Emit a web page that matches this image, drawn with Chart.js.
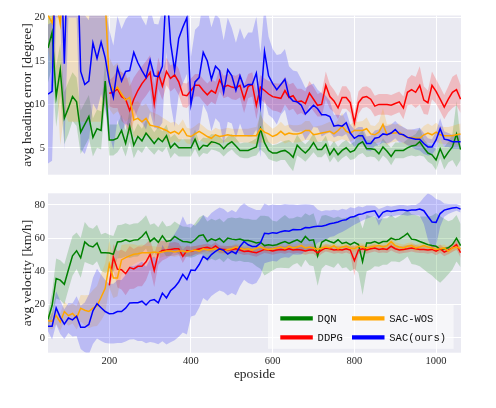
<!DOCTYPE html>
<html><head><meta charset="utf-8">
<script src="https://cdn.jsdelivr.net/npm/chart.js@4.4.1/dist/chart.umd.min.js"></script>
<style>
html,body{margin:0;padding:0;background:#fff;}
#wrap{position:relative;width:496px;height:408px;overflow:hidden;}
#c1{position:absolute;left:0;top:0;}
#c2{position:absolute;left:0;top:184px;}
</style></head><body>
<div id="wrap"><canvas id="c1" width="496" height="184"></canvas><canvas id="c2" width="496" height="224"></canvas></div>
<script>
// ---------- data ----------
const EPISODES = Array.from({length: 102}, (_, i) => 50 + 10 * i);
const SERIES = ['DQN', 'DDPG', 'SAC-WOS', 'SAC(ours)'];
const X_TICKS = [200, 400, 600, 800, 1000];
const HEADING_TICKS = [5, 10, 15, 20];
const VELOCITY_TICKS = [0, 20, 40, 60, 80];
const N = null;

// avg heading error [degree] : mean and spread
const headDQN = [16.5,18.3,10.9,14.0,8.4,9.6,10.9,10.3,6.8,7.7,
 8.6,6.2,7.2,7.0,12.7,5.9,5.9,6.1,7.0,5.5,
 7.5,5.3,6.3,5.8,6.7,6.1,5.5,6.1,5.7,6.4,
 5.0,5.5,5.0,5.0,5.0,5.0,6.0,4.8,5.3,5.2,
 5.7,5.6,5.4,4.9,5.4,5.7,5.2,4.7,4.7,4.7,
 4.9,5.1,7.2,5.6,4.7,4.4,4.4,4.6,4.7,4.4,
 3.9,5.3,4.8,4.4,4.9,5.6,4.8,4.8,5.4,4.2,
 4.9,4.2,4.7,5.0,4.5,4.7,5.4,5.7,4.9,4.9,
 4.8,4.3,5.1,4.6,4.0,4.7,4.7,4.7,5.0,5.2,
 5.3,5.7,5.0,4.4,4.2,3.6,4.9,3.8,4.5,5.1,
 6.6,4.8];
const headDQNsd = [4,4,3.5,3,3,3,2.8,2.8,2.5,2.5,
 2.5,2.2,2.2,2.2,2.5,1.8,1.8,1.6,1.8,1.5,
 1.8,1.5,1.5,1.4,1.5,1.4,1.3,1.3,1.2,1.3,
 1.2,1.1,1.0,1.0,1.0,1.0,1.1,0.9,0.9,0.9,
 0.9,0.9,0.9,0.9,0.9,0.9,0.9,0.8,0.9,0.9,
 0.9,1.0,2.4,1.2,1.0,0.9,1.0,1.0,1.1,1.5,
 1.6,1.2,1.0,1.0,1.0,1.1,0.9,0.9,1.0,0.9,
 0.9,0.9,0.9,0.9,0.9,1.0,1.2,1.3,1.0,0.9,
 0.9,0.9,1.0,0.9,1.0,0.9,0.9,0.9,1.0,1.1,
 1.3,1.6,1.0,1.0,1.1,1.2,1.1,1.3,1.2,1.5,
 3.8,1.2];
const headDDPG = [N,N,N,N,N,N,N,N,N,N,
 N,N,N,N,N,11.3,11.4,11.8,10.9,10.6,
 9.3,10.6,11.6,12.4,13.0,13.7,10.1,13.6,12.1,13.8,
 13.0,13.4,12.6,11.1,11.0,11.6,12.2,12.2,11.6,11.1,
 11.6,11.3,12.8,12.0,12.2,12.0,11.9,12.2,10.6,12.1,
 12.3,9.9,12.0,11.6,11.2,10.9,10.8,10.7,11.6,10.8,
 11.0,10.3,10.4,10.1,11.3,10.6,9.9,10.0,12.2,10.9,
 10.4,9.6,10.8,10.8,10.2,7.9,10.2,10.8,10.9,10.6,
 9.8,10.0,10.0,10.0,9.9,10.1,10.3,9.6,11.4,11.7,
 11.4,12.2,10.5,10.2,12.2,11.5,10.6,9.7,10.6,11.4,
 11.7,10.6];
const headDDPGsd = [N,N,N,N,N,N,N,N,N,N,
 N,N,N,N,N,1.5,1.8,2.2,2.8,3.0,
 2.8,2.5,2.2,2.0,2.0,2.0,2.2,1.8,1.6,1.6,
 1.5,1.5,1.5,1.4,1.4,1.4,1.3,1.3,1.3,1.3,
 1.3,1.3,1.3,1.3,1.3,1.4,1.4,1.4,1.6,1.4,
 1.4,1.6,1.4,1.4,1.5,1.6,1.6,1.7,1.6,1.5,
 1.5,1.5,1.4,1.4,1.4,1.4,1.3,1.4,1.6,1.4,
 1.3,1.3,1.3,1.3,1.2,1.0,1.3,1.2,1.2,1.2,
 1.2,1.2,1.2,1.2,1.2,1.2,1.2,1.3,1.5,1.7,
 1.8,2.2,1.6,1.4,1.6,1.4,1.4,1.4,1.5,1.8,
 1.8,1.6];
const headWOS = [20.3,19.4,22,19.3,26,28,30,30,30,28,
 27,26,25,24,22,12.5,11.6,12.0,11.2,10.5,
 10.8,8.2,8.4,8.0,8.4,7.6,7.5,7.4,7.2,7.0,
 6.7,6.9,6.6,7.2,6.4,6.3,6.6,6.9,6.6,6.3,
 6.1,6.5,6.3,6.4,6.5,6.4,6.4,6.4,6.4,6.4,
 6.4,6.4,7.2,6.8,6.6,6.3,6.5,6.9,6.5,6.7,
 6.6,6.6,6.7,7.0,7.0,6.5,6.6,6.7,6.8,6.9,
 6.6,7.0,7.5,6.9,6.7,7.0,7.0,7.0,7.2,6.6,
 6.5,6.8,7.7,6.5,6.7,6.7,6.8,6.4,6.2,6.2,
 6.1,6.1,6.5,6.7,6.5,6.8,6.5,6.4,6.4,6.4,
 6.5,6.6];
const headWOSsd = [4,5,8,14,17,20,22,22,22,20,
 19,18,17,16,12,3.0,2.8,2.8,2.6,2.5,
 2.4,2.0,2.0,1.8,1.7,1.6,1.5,1.4,1.3,1.2,
 1.2,1.1,1.0,1.1,0.9,0.9,0.9,1.0,0.9,0.8,
 0.8,0.8,0.8,0.8,0.8,0.8,0.8,0.8,0.8,0.8,
 0.9,1.0,1.6,1.2,1.0,0.9,1.0,1.1,1.0,1.0,
 1.0,1.0,1.0,1.1,1.1,0.9,0.9,0.9,1.0,1.1,
 1.0,1.2,1.5,1.1,1.0,1.0,1.0,1.1,1.3,1.0,
 1.0,1.2,1.9,1.2,1.1,1.0,1.0,0.9,0.9,0.9,
 0.9,0.9,1.0,1.1,1.0,1.1,1.0,1.0,1.0,1.1,
 1.2,1.2];
const headSAC = [11.2,11.5,30,30,14.7,30,30,30,13.8,12.3,
 12.7,17.1,15.3,17.2,15.4,12.6,10.8,14.2,12.7,13.8,
 13.9,16.0,14.8,13.9,13.1,15.1,13.3,13.2,14.4,24,
 17.1,13.9,17.6,18.9,20.0,10.0,12.6,13.1,16.0,15.0,
 12.9,14.4,13.9,11.4,14.0,13.3,11.6,13.3,12.0,12.3,
 12.3,13.6,9.9,16.1,13.3,12.4,11.7,12.3,12.9,10.9,
 10.4,10.3,9.9,8.9,9.4,9.9,9.5,8.8,8.8,8.6,
 7.5,7.6,7.5,7.9,6.7,6.1,6.4,6.4,5.5,5.5,
 6.1,6.2,6.6,6.5,6.7,7.1,6.6,6.5,6.2,6.1,
 6.0,6.0,5.5,5.1,5.1,5.9,7.2,6.0,5.9,5.7,
 5.7,5.7];
const headSACsd = [8,8,10,10,10,10,10,10,9,8,
 7,7,6,6,6,6,6,6,6,6,
 6.5,6.5,6.5,6,6,6,6,6,6.5,8,
 7,6.5,6.5,6.5,6.5,5.5,6,6,6,6,
 6,6,6,6,6,5.5,5.5,5.5,5.5,6,
 6,6.5,6,5.5,4.5,4,4,3.5,3.5,3.5,
 3.5,3.5,3,3,2.8,2.5,2.2,2.5,2.2,1.8,
 1.3,1.2,1.2,1.3,1.0,1.0,1.0,1.0,0.8,0.9,
 0.9,0.9,1.0,1.0,1.0,1.0,1.0,0.9,0.9,1.0,
 1.2,1.3,1.2,1.0,0.9,1.0,1.2,0.9,0.8,0.8,
 0.8,0.8];

// avg velocity [km/h] : mean and spread
const velDQN = [11.0,19.4,35.7,34.7,32.2,41.0,49.3,52.4,48.1,57.7,
 55.5,54.7,57.1,51.2,51.2,51.0,50.3,57.7,58.0,59.0,
 58.0,58.8,59.0,61.0,63.8,58.0,60.0,57.5,61.4,58.0,
 58.6,61.0,59.4,58.0,57.8,57.2,59.0,61.5,62.0,58.0,
 59.6,58.6,59.8,57.5,60.0,59.4,59.0,59.4,58.6,58.6,
 58.0,57.1,57.5,55.5,56.0,55.5,56.0,57.1,58.0,56.8,
 58.0,59.0,57.5,61.0,58.6,59.0,49.3,57.5,59.0,58.0,
 57.1,59.0,56.8,57.5,56.1,57.5,56.1,45.8,57.1,57.1,
 58.0,56.8,58.0,58.0,60.0,59.0,59.4,61.0,62.9,59.4,
 59.0,58.0,57.1,56.1,55.5,55.1,53.2,53.6,54.2,56.1,
 60.0,55.5];
const velDQNsd = [4,8,12,12,12,12,12,11,12,12,
 11,11,11,11,12,11,11,10,10,10,
 10,10,10,10,10,10,9,9,9,9,
 9,9,9,9,9,9,10,11,12,12,
 12,12,12,12,12,13,13,13,13,13,
 13,14,16,18,17,15,14,15,16,15,
 14,14,15,14,15,16,18,16,15,15,
 15,14,15,15,16,16,17,20,17,16,
 15,14,14,14,14,13,14,14,14,15,
 15,15,16,17,18,20,20,18,16,15,
 14,13];
const velDDPG = [N,N,N,N,N,N,N,N,N,N,
 N,N,N,N,N,31.6,48.5,41.3,41.0,38.6,
 42.3,41.5,43.0,43.0,45.7,50.2,40.5,51.0,52.5,52.8,
 53.2,53.6,53.6,49.0,52.5,52.0,52.8,53.4,54.0,54.5,
 53.6,55.3,53.4,53.2,53.0,53.0,53.6,52.8,52.0,52.3,
 51.6,51.2,52.2,53.2,52.8,52.2,52.8,53.2,52.8,53.6,
 52.8,53.2,52.8,52.2,52.8,52.8,51.2,52.8,54.1,53.6,
 52.8,53.2,52.8,53.6,52.8,46.4,52.8,53.6,52.8,53.6,
 54.1,53.2,53.6,53.2,55.1,53.6,52.8,53.2,53.6,54.1,
 53.6,53.2,53.2,52.8,53.2,52.2,53.6,51.6,52.8,54.1,
 56.1,51.2];
const velDDPGsd = [N,N,N,N,N,N,N,N,N,N,
 N,N,N,N,N,4,8,11,12,13,
 13,12,12,12,11,9,10,7,6,5,
 4,4,3.5,4,3,3,2.5,2.5,2.2,2.2,
 2.2,2.2,2.2,2.2,2.2,2.2,2.2,2.2,2.2,2.2,
 2.2,2.4,2.2,2.2,2.2,2.2,2.2,2.2,2.2,2.2,
 2.2,2.2,2.2,2.2,2.2,2.2,2.8,2.2,2.2,2.2,
 2.2,2.2,2.2,2.2,2.5,9,2.5,2.2,2.2,2.2,
 2.2,2.2,2.2,2.2,2.5,2.2,2.2,2.2,2.2,2.2,
 2.2,2.2,2.2,2.2,2.2,2.5,2.5,2.5,2.5,2.5,
 3,3];
const velWOS = [10.2,10.0,13.3,9.4,15.8,13.3,14.6,12.0,17.8,16.6,
 15.8,17.8,19.1,24.4,29.8,44.4,36.0,36.0,46.9,48.3,
 49.3,50.3,50.6,51.2,51.2,51.2,51.6,51.2,51.6,52.2,
 52.2,51.6,52.2,52.2,51.6,52.2,52.8,52.2,53.6,52.8,
 53.2,53.6,52.8,52.2,53.2,53.6,54.7,54.1,53.2,53.6,
 52.8,54.1,54.7,53.6,53.2,53.6,54.1,54.7,53.6,55.1,
 54.1,54.7,55.5,54.1,54.7,54.1,53.2,54.1,54.7,54.1,
 55.5,53.6,54.7,55.1,54.1,53.6,55.1,54.7,54.1,54.7,
 55.1,55.5,54.7,55.5,58.0,55.5,54.7,54.1,55.1,55.5,
 54.1,54.7,55.5,54.7,54.1,53.2,53.6,54.1,52.2,54.1,
 54.7,53.6];
const velWOSsd = [4,5,5,5,6,6,6,7,8,9,
 10,11,12,14,15,14,12,11,9,8,
 7,6,5,5,4,4,3.5,3.5,3,3,
 3,3,3,3,3,2.5,2.5,2.5,2.5,2.5,
 2,2,2,2,2,2,2,2,2,2,
 2,2,2.5,2,2,2,2,2,2,2,
 2,2,2,2,2,2,2,2,2,2,
 2,2,2,2,2,2,2,2,2,2,
 2,2,2,2,3,2,2,2,2,2,
 2,2,2,2,2,2,2,2,2,2,
 2,2];
const velSAC = [6.9,6.9,18.0,12.3,8.2,11.9,10.8,13.0,6.3,6.3,
 8.0,16.2,20.5,18.1,15.8,14.5,14.6,15.8,15.8,17.8,
 21.0,21.1,21.1,22.0,19.7,22.4,23.0,21.1,26.9,24.0,
 28.3,30.5,33.6,38.2,35.0,40.8,40.5,44.1,49.0,47.2,
 50.1,52.0,53.5,52.6,50.4,52.0,50.6,55.0,58.0,56.0,
 55.0,55.0,57.0,62.9,62.6,63.3,63.0,63.9,64.5,64.2,
 65.2,65.0,65.2,66.4,66.2,66.8,67.2,67.2,67.8,68.7,
 69.1,69.7,70.7,71.1,72.6,73.0,74.2,74.6,75.6,76.1,
 76.5,72.5,75.5,76.5,76.1,76.5,76.9,76.9,76.5,76.9,
 76.9,77.5,76.5,73.0,69.7,69.5,74.8,76.9,77.5,78.1,
 78.5,77.5];
const velSACsd = [3,8,10,10,9,9,10,12,13,15,
 18,20,21,20,19,18,18,19,19,20,
 22,22,23,24,23,25,26,25,29,28,
 31,32,33,35,33,28,27,26,25,25,
 25,25,25,25,25,25,25,24,23,23,
 23,22,20,18,17,17,17,16,16,16,
 15,15,15,14,14,13,10,9,9,8,
 8,7,7,6,6,5,5,4,4,3.5,
 3,5,3,3,3,3,3,3,3,3,
 3,4,8,14,16,14,8,4,3,2.5,
 2,2];

// ---------- styling ----------
const COLORS = [[0,128,0],[255,0,0],[255,165,0],[0,0,255]];
const rgba = (c, a) => `rgba(${c[0]},${c[1]},${c[2]},${a})`;
const FONT = 'Liberation Serif';
const TXT = '#262626';
Chart.defaults.font.family = FONT;
Chart.defaults.color = TXT;

function pts(m, s, sign) {
  return EPISODES.map((e, i) => m[i] == null ? null : {x: e, y: m[i] + sign * (s ? s[i] : 0)}).filter(p => p);
}
function makeDatasets(means, sds) {
  const ds = [];
  means.forEach((m, k) => {
    ds.push({data: pts(m, sds[k], 1), fill: '+1', backgroundColor: rgba(COLORS[k], 0.2),
      borderColor: 'rgba(0,0,0,0)', borderWidth: 0, pointRadius: 0, order: 30 - k});
    ds.push({data: pts(m, sds[k], -1), fill: false, backgroundColor: 'rgba(0,0,0,0)',
      borderColor: 'rgba(0,0,0,0)', borderWidth: 0, pointRadius: 0, order: 30 - k});
  });
  means.forEach((m, k) => {
    ds.push({label: SERIES[k], data: pts(m, null, 0), fill: false, borderColor: rgba(COLORS[k], 1),
      borderWidth: 1.5, pointRadius: 0, tension: 0, order: 10 - k, isLine: true});
  });
  return ds;
}

const bgPlugin = {
  id: 'bg',
  beforeDraw(c) {
    const {ctx, chartArea: a} = c;
    ctx.save(); ctx.fillStyle = '#EAEAF2';
    ctx.fillRect(a.left, a.top, a.right - a.left, a.bottom - a.top);
    ctx.restore();
  }
};

const legendPlugin = {
  id: 'boxLegend',
  afterDraw(c) {
    const {ctx, chartArea: a} = c;
    const lines = c.data.datasets.filter(d => d.isLine);
    const bx = a.left + 220, by = a.top + 111.6, bw = 185.6, bh = 44;
    ctx.save();
    ctx.fillStyle = 'rgba(255,255,255,0.55)';
    ctx.fillRect(bx, by, bw, bh);
    ctx.font = '10.5px "Liberation Mono"';
    ctx.textBaseline = 'middle';
    ctx.fillStyle = '#111';
    lines.forEach((d, k) => {
      const col = Math.floor(k / 2), row = k % 2;
      const lx = bx + 12.3 + col * 71.7, ly = by + 13.4 + row * 19;
      ctx.strokeStyle = d.borderColor; ctx.lineWidth = 4.3; ctx.lineCap = 'butt';
      ctx.beginPath(); ctx.moveTo(lx, ly); ctx.lineTo(lx + 32.5, ly); ctx.stroke();
      ctx.fillText(d.label, lx + 37.3, ly + 0.5);
    });
    ctx.restore();
  }
};

function xScale(showLabels) {
  return {
    type: 'linear', min: 50, max: 1061,
    afterBuildTicks: s => { s.ticks = X_TICKS.map(v => ({value: v})); },
    grid: {color: '#ffffff', lineWidth: 1, drawTicks: false},
    border: {display: false},
    ticks: {display: showLabels, padding: 2, font: {size: 10.5}, color: TXT, callback: v => String(v)},
    title: {display: showLabels, text: 'eposide', font: {size: 13.5}, color: TXT, padding: 0},
    afterFit: s => { s.height = showLabels ? 29.8 : 0; }
  };
}
function yScale(min, max, ticks, title) {
  return {
    type: 'linear', min: min, max: max,
    afterBuildTicks: s => { s.ticks = ticks.map(v => ({value: v})); },
    grid: {color: '#ffffff', lineWidth: 1, drawTicks: false},
    border: {display: false},
    ticks: {padding: 3, font: {size: 10.5}, color: TXT, callback: v => String(v)},
    title: {display: true, text: title, font: {size: 13.5}, color: TXT, padding: {top: 19.2, bottom: 0}},
    afterFit: s => { s.width = 48; }
  };
}
const common = {
  responsive: false, animation: false, devicePixelRatio: 1,
  plugins: {legend: {display: false}, tooltip: {enabled: false}},
  elements: {line: {capBezierPoints: false}}
};

new Chart(document.getElementById('c1'), {
  type: 'line',
  data: {datasets: makeDatasets([headDQN, headDDPG, headWOS, headSAC], [headDQNsd, headDDPGsd, headWOSsd, headSACsd])},
  options: Object.assign({}, common, {
    layout: {padding: {top: 15.5, right: 35, bottom: 3.5, left: 0}},
    scales: {x: xScale(false), y: yScale(1.9, 20.25, HEADING_TICKS, 'avg heading error [degree]')}
  }),
  plugins: [bgPlugin]
});

new Chart(document.getElementById('c2'), {
  type: 'line',
  data: {datasets: makeDatasets([velDQN, velDDPG, velWOS, velSAC], [velDQNsd, velDDPGsd, velWOSsd, velSACsd])},
  options: Object.assign({}, common, {
    layout: {padding: {top: 3.7, right: 35, bottom: 25.5, left: 0}},
    scales: {x: xScale(true), y: yScale(-9, 87, VELOCITY_TICKS, 'avg velocity [km/h]')}
  }),
  plugins: [bgPlugin, legendPlugin]
});
</script></body></html>
